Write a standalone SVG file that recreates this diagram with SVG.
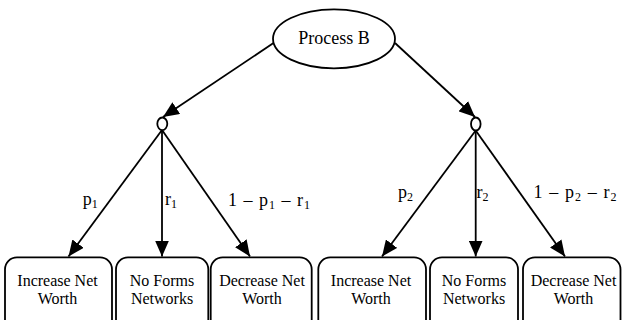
<svg xmlns="http://www.w3.org/2000/svg" width="622" height="320" viewBox="0 0 622 320">
  <style>
    .ln { stroke: #000; stroke-width: 1.8; fill: none; }
    .box { stroke: #000; stroke-width: 1.8; fill: #fff; }
    .t { font-family: "Liberation Serif", "Times New Roman", serif; fill: #000; }
    .bt { font-size: 16px; text-anchor: middle; }
    .lb { font-size: 18px; }
    .sub { font-size: 12px; }
  </style>
  <defs>
    <marker id="arr" markerUnits="userSpaceOnUse" markerWidth="16" markerHeight="14" refX="16" refY="7" orient="auto">
      <path d="M0,0 L16,7 L0,14 z" fill="#000"/>
    </marker>
  </defs>
  <rect width="622" height="320" fill="#fff"/>

  <g id="connectors">
    <line class="ln" x1="273.5" y1="43" x2="163" y2="117" marker-end="url(#arr)"/>
    <line class="ln" x1="395" y1="43" x2="475" y2="117" marker-end="url(#arr)"/>
    <line class="ln" x1="162" y1="130" x2="68.5" y2="256.5" marker-end="url(#arr)"/>
    <line class="ln" x1="162" y1="130" x2="162" y2="256.5" marker-end="url(#arr)"/>
    <line class="ln" x1="162" y1="130" x2="250" y2="256.5" marker-end="url(#arr)"/>
    <line class="ln" x1="475.7" y1="130.5" x2="382" y2="256.5" marker-end="url(#arr)"/>
    <line class="ln" x1="475.7" y1="130.5" x2="475.7" y2="256.5" marker-end="url(#arr)"/>
    <line class="ln" x1="475.7" y1="130.5" x2="565" y2="256.5" marker-end="url(#arr)"/>
  </g>

  <g id="labels" class="t lb">
    <text x="82.7" y="205">p<tspan class="sub" dy="3">1</tspan></text>
    <text x="165" y="205">r<tspan class="sub" dy="3">1</tspan></text>
    <text x="228" y="205.5" textLength="82" lengthAdjust="spacing">1 – p<tspan class="sub" dy="3">1</tspan><tspan dy="-3"> – r</tspan><tspan class="sub" dy="3">1</tspan></text>
    <text x="398" y="197.5">p<tspan class="sub" dy="3">2</tspan></text>
    <text x="476.5" y="197.5">r<tspan class="sub" dy="3">2</tspan></text>
    <text x="533.5" y="197.5" textLength="83" lengthAdjust="spacing">1 – p<tspan class="sub" dy="3">2</tspan><tspan dy="-3"> – r</tspan><tspan class="sub" dy="3">2</tspan></text>
  </g>

  <g id="processB">
    <ellipse class="box" cx="334" cy="38.8" rx="61" ry="29.5"/>
    <text class="t" x="334" y="43.5" font-size="18" text-anchor="middle">Process B</text>
  </g>

  <g id="chanceLeft">
    <ellipse class="box" cx="162.3" cy="123.8" rx="5" ry="6.3"/>
  </g>
  <g id="chanceRight">
    <ellipse class="box" cx="475.8" cy="124" rx="4.8" ry="6.5"/>
  </g>

  <g id="increase1">
    <rect class="box" x="5" y="257.3" width="107" height="80" rx="12"/>
    <text class="t bt" x="57.5" y="285.5">Increase Net</text>
    <text class="t bt" x="57.5" y="303.5">Worth</text>
  </g>
  <g id="noforms1">
    <rect class="box" x="116" y="257.3" width="92.3" height="80" rx="12"/>
    <text class="t bt" x="162" y="285.5">No Forms</text>
    <text class="t bt" x="162" y="303.5">Networks</text>
  </g>
  <g id="decrease1">
    <rect class="box" x="210.7" y="257.3" width="101" height="80" rx="12"/>
    <text class="t bt" x="262" y="285.5">Decrease Net</text>
    <text class="t bt" x="262" y="303.5">Worth</text>
  </g>
  <g id="increase2">
    <rect class="box" x="318.3" y="257.3" width="107.7" height="80" rx="12"/>
    <text class="t bt" x="371" y="285.5">Increase Net</text>
    <text class="t bt" x="371" y="303.5">Worth</text>
  </g>
  <g id="noforms2">
    <rect class="box" x="430" y="257.3" width="88" height="80" rx="12"/>
    <text class="t bt" x="474" y="285.5">No Forms</text>
    <text class="t bt" x="474" y="303.5">Networks</text>
  </g>
  <g id="decrease2">
    <rect class="box" x="523" y="257.3" width="97.5" height="80" rx="12"/>
    <text class="t bt" x="573.5" y="285.5">Decrease Net</text>
    <text class="t bt" x="573.5" y="303.5">Worth</text>
  </g>
</svg>
